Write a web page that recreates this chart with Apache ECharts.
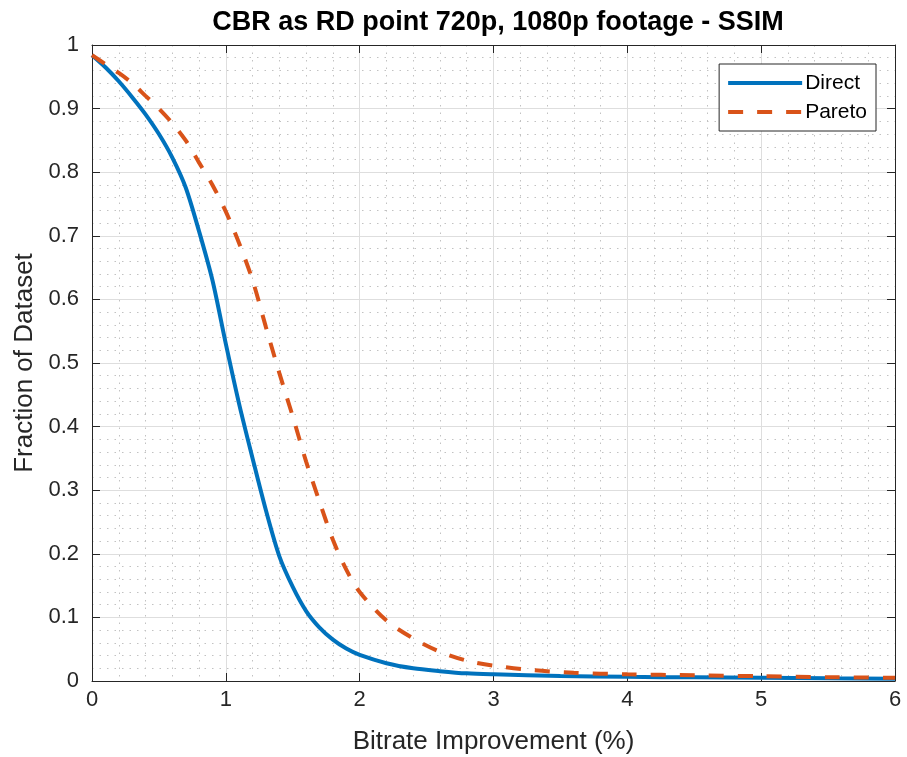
<!DOCTYPE html>
<html>
<head>
<meta charset="utf-8">
<script src="https://cdn.jsdelivr.net/npm/echarts@6/dist/echarts.min.js"></script>
<style>html,body{margin:0;padding:0;background:#fff;}#c{width:907px;height:757px;}</style>
</head>
<body>
<div id="c"></div>
<script>
const titleText = 'CBR as RD point 720p, 1080p footage - SSIM';
const xName = 'Bitrate Improvement (%)';
const yName = 'Fraction of Dataset';
const seriesNames = ['Direct', 'Pareto'];
const directX = [0, 0.1, 0.2, 0.3, 0.4, 0.5, 0.6, 0.7, 0.8, 0.9, 1.0, 1.1, 1.2, 1.3, 1.4, 1.5, 1.6, 1.7, 1.8, 1.9, 2.0, 2.2, 2.4, 2.6, 2.8, 3.0, 3.5, 4.0, 4.5, 5.0, 5.5, 6.0];
const directY = [0.984, 0.965, 0.943, 0.918, 0.891, 0.860, 0.823, 0.776, 0.707, 0.630, 0.530, 0.435, 0.350, 0.268, 0.196, 0.148, 0.110, 0.084, 0.065, 0.051, 0.041, 0.028, 0.020, 0.0155, 0.012, 0.0105, 0.008, 0.0065, 0.0057, 0.005, 0.0042, 0.0035];
const paretoX = [0, 0.1, 0.2, 0.3, 0.4, 0.5, 0.6, 0.7, 0.8, 0.9, 1.0, 1.1, 1.2, 1.3, 1.4, 1.5, 1.6, 1.7, 1.8, 1.9, 2.0, 2.2, 2.4, 2.6, 2.8, 3.0, 3.3, 3.6, 4.0, 4.5, 5.0, 5.5, 6.0];
const paretoY = [0.984, 0.970, 0.956, 0.940, 0.920, 0.900, 0.877, 0.850, 0.815, 0.780, 0.738, 0.688, 0.630, 0.556, 0.484, 0.416, 0.345, 0.282, 0.222, 0.175, 0.140, 0.095, 0.067, 0.046, 0.032, 0.024, 0.017, 0.013, 0.0105, 0.009, 0.0075, 0.006, 0.005];
const xTicks = [0, 1, 2, 3, 4, 5, 6];
const yTicks = [0, 0.1, 0.2, 0.3, 0.4, 0.5, 0.6, 0.7, 0.8, 0.9, 1];

const axisColor = '#262626';
const font = 'Liberation Sans, Arial, Helvetica, sans-serif';
const chart = echarts.init(document.getElementById('c'));
const zip = (xs, ys) => xs.map((x, i) => [x, ys[i]]);
const minorStyle = { color: '#c2c2c2', type: [1.5, 6], width: 1 };
const baseX = {
  type: 'value', min: xTicks[0], max: xTicks[xTicks.length - 1], interval: 1,
  axisLine: { show: true, onZero: false, lineStyle: { color: axisColor, width: 1 } },
  axisTick: { show: true, inside: true, length: 8, lineStyle: { color: axisColor } },
  minorTick: { show: false, splitNumber: 5 },
};
const baseY = {
  type: 'value', min: yTicks[0], max: yTicks[yTicks.length - 1], interval: 0.1,
  axisLine: { show: true, onZero: false, lineStyle: { color: axisColor, width: 1 } },
  axisTick: { show: true, inside: true, length: 8, lineStyle: { color: axisColor } },
  minorTick: { show: false, splitNumber: 5 },
};
chart.setOption({
  animation: false,
  backgroundColor: '#fff',
  title: {
    text: titleText, left: 493, top: 4, textAlign: 'center',
    textStyle: { fontFamily: font, fontSize: 27, fontWeight: 'bold', color: '#000' }
  },
  grid: { left: 92, right: 12, top: 45, bottom: 76, containLabel: false, outerBoundsMode: 'none' },
  legend: {
    data: seriesNames, orient: 'vertical', right: 31, top: 64,
    itemWidth: 74, itemHeight: 14, itemGap: 7,
    padding: [8, 9, 8, 7],
    backgroundColor: '#fff', borderColor: axisColor, borderWidth: 1, borderRadius: 0,
    itemStyle: { opacity: 0 },
    lineStyle: { width: 4 },
    textStyle: { fontFamily: font, fontSize: 21, lineHeight: 22, color: '#000', padding: [0, 0, 0, -2] }
  },
  xAxis: [
    Object.assign({}, baseX, {
      position: 'bottom',
      name: xName, nameLocation: 'middle', nameGap: 48,
      nameTextStyle: { fontFamily: font, fontSize: 26, color: axisColor },
      axisLabel: { fontFamily: font, fontSize: 22, color: axisColor, margin: 8 },
      splitLine: { show: true, lineStyle: { color: '#dedede', width: 1 } },
      minorSplitLine: { show: true, lineStyle: minorStyle }
    }),
    Object.assign({}, baseX, {
      position: 'top', axisLabel: { show: false },
      splitLine: { show: false }, minorSplitLine: { show: false }
    })
  ],
  yAxis: [
    Object.assign({}, baseY, {
      position: 'left',
      name: yName, nameLocation: 'middle', nameGap: 51,
      nameTextStyle: { fontFamily: font, fontSize: 26, color: axisColor },
      axisLabel: { fontFamily: font, fontSize: 22, color: axisColor, margin: 13,
        formatter: v => String(Math.round(v * 10) / 10) },
      splitLine: { show: true, lineStyle: { color: '#dedede', width: 1 } },
      minorSplitLine: { show: true, lineStyle: minorStyle }
    }),
    Object.assign({}, baseY, {
      position: 'right', axisLabel: { show: false },
      splitLine: { show: false }, minorSplitLine: { show: false }
    })
  ],
  series: [
    {
      name: seriesNames[0], type: 'line', xAxisIndex: 0, yAxisIndex: 0,
      data: zip(directX, directY), smooth: 0.3, symbol: 'none',
      lineStyle: { color: '#0072BD', width: 4 }, itemStyle: { color: '#0072BD' }
    },
    {
      name: seriesNames[1], type: 'line', xAxisIndex: 0, yAxisIndex: 0,
      data: zip(paretoX, paretoY), smooth: 0.3, symbol: 'none',
      lineStyle: { color: '#D95319', width: 4, type: [15, 14] }, itemStyle: { color: '#D95319' }
    }
  ]
});
</script>
</body>
</html>
